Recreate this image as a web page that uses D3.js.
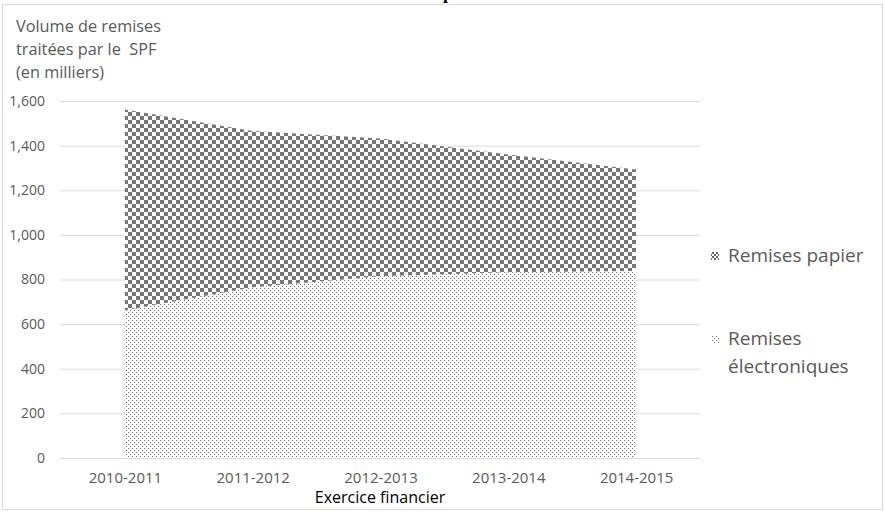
<!DOCTYPE html>
<html><head><meta charset="utf-8">
<script src="https://cdn.jsdelivr.net/npm/d3@7"></script>
<style>body{margin:0;background:#fff}svg{display:block}</style>
</head><body>
<svg id="c" width="885" height="517"></svg>
<script>
const categories = ["2010-2011","2011-2012","2012-2013","2013-2014","2014-2015"];
const electroniques = [662, 765, 815, 833, 838];
const papier = [900, 701, 617, 527, 455];
const yTicks = [0,200,400,600,800,1000,1200,1400,1600];
const seriesNames = ["Remises papier", "Remises électroniques"];

const svg = d3.select("#c");
const font = "'Open Sans', 'Noto Sans', sans-serif";
const txt = "#595959";

const defs = svg.append("defs");
const pChk = defs.append("pattern").attr("id","chk").attr("patternUnits","userSpaceOnUse")
  .attr("width",8).attr("height",8);
pChk.append("rect").attr("width",8).attr("height",8).attr("fill","#fff");
pChk.append("rect").attr("width",4).attr("height",4).attr("fill","#767676");
pChk.append("rect").attr("x",4).attr("y",4).attr("width",4).attr("height",4).attr("fill","#767676");
const pChkS = defs.append("pattern").attr("id","chks").attr("patternUnits","userSpaceOnUse")
  .attr("width",4).attr("height",4);
pChkS.append("rect").attr("width",4).attr("height",4).attr("fill","#fff");
pChkS.append("rect").attr("width",2).attr("height",2).attr("fill","#666");
pChkS.append("rect").attr("x",2).attr("y",2).attr("width",2).attr("height",2).attr("fill","#666");
const pDot = defs.append("pattern").attr("id","dot").attr("patternUnits","userSpaceOnUse")
  .attr("width",4).attr("height",4);
pDot.append("rect").attr("width",4).attr("height",4).attr("fill","#fff");
pDot.append("rect").attr("width",1).attr("height",1).attr("fill","#6e6e6e");
pDot.append("rect").attr("x",2).attr("y",2).attr("width",1).attr("height",1).attr("fill","#6e6e6e");

// border
svg.append("rect").attr("x",2.5).attr("y",4.5).attr("width",880).attr("height",505)
  .attr("fill","none").attr("stroke","#d9d9d9");

// clipped title descender (title is cut off at the top edge in the reference)
svg.append("text").attr("x",448).attr("y",-1).attr("font-family","'Liberation Serif', serif")
  .attr("font-weight","bold").attr("font-size",18).attr("text-anchor","middle").text("p");

const x = d3.scalePoint().domain(categories).range([61,700]).padding(0.5);
const y = d3.scaleLinear().domain([0,1600]).range([458,101]);

const yAxis = svg.append("g").attr("transform","translate(60,0)")
  .call(d3.axisLeft(y).tickValues(yTicks).tickFormat(d3.format(",")).tickSize(-640).tickPadding(15));
yAxis.select(".domain").remove();
yAxis.selectAll("line").attr("stroke","#d9d9d9");
yAxis.selectAll("text").attr("fill",txt).attr("font-family",font).attr("font-size",14);

const data = categories.map((c,i)=>({cat:c, e:electroniques[i], p:papier[i]}));
const stack = d3.stack().keys(["e","p"])(data);
const area = d3.area().x(d=>x(d.data.cat)).y0(d=>y(d[0])).y1(d=>y(d[1]));
svg.append("path").datum(stack[0]).attr("d",area).attr("fill","url(#dot)");
svg.append("path").datum(stack[1]).attr("d",area).attr("fill","url(#chk)");

const xAxis = svg.append("g").attr("transform","translate(0,458)")
  .call(d3.axisBottom(x).tickSize(0).tickPadding(14));
xAxis.select(".domain").remove();
xAxis.selectAll("text").attr("fill",txt).attr("font-family",font).attr("font-size",15);

svg.append("text").attr("x",380).attr("y",503).attr("text-anchor","middle")
  .attr("font-family",font).attr("font-size",16).attr("fill","#000").text("Exercice financier");

const yt = svg.append("text").attr("font-family",font).attr("font-size",16.3).attr("fill",txt);
["Volume de remises","traitées par le  SPF","(en milliers)"].forEach((l,i)=>
  yt.append("tspan").attr("x",16).attr("y",32+i*23).attr("xml:space","preserve").text(l));

// legend
svg.append("rect").attr("x",711).attr("y",252).attr("width",8).attr("height",8).attr("fill","url(#chks)");
svg.append("text").attr("x",728).attr("y",262).attr("font-family",font).attr("font-size",19)
  .attr("fill",txt).text(seriesNames[0]);
svg.append("rect").attr("x",711).attr("y",335).attr("width",8).attr("height",8).attr("fill","url(#dot)");
const lt = svg.append("text").attr("font-family",font).attr("font-size",19).attr("fill",txt);
lt.append("tspan").attr("x",728).attr("y",345).text("Remises");
lt.append("tspan").attr("x",728).attr("y",373).text("électroniques");
</script>
</body></html>
